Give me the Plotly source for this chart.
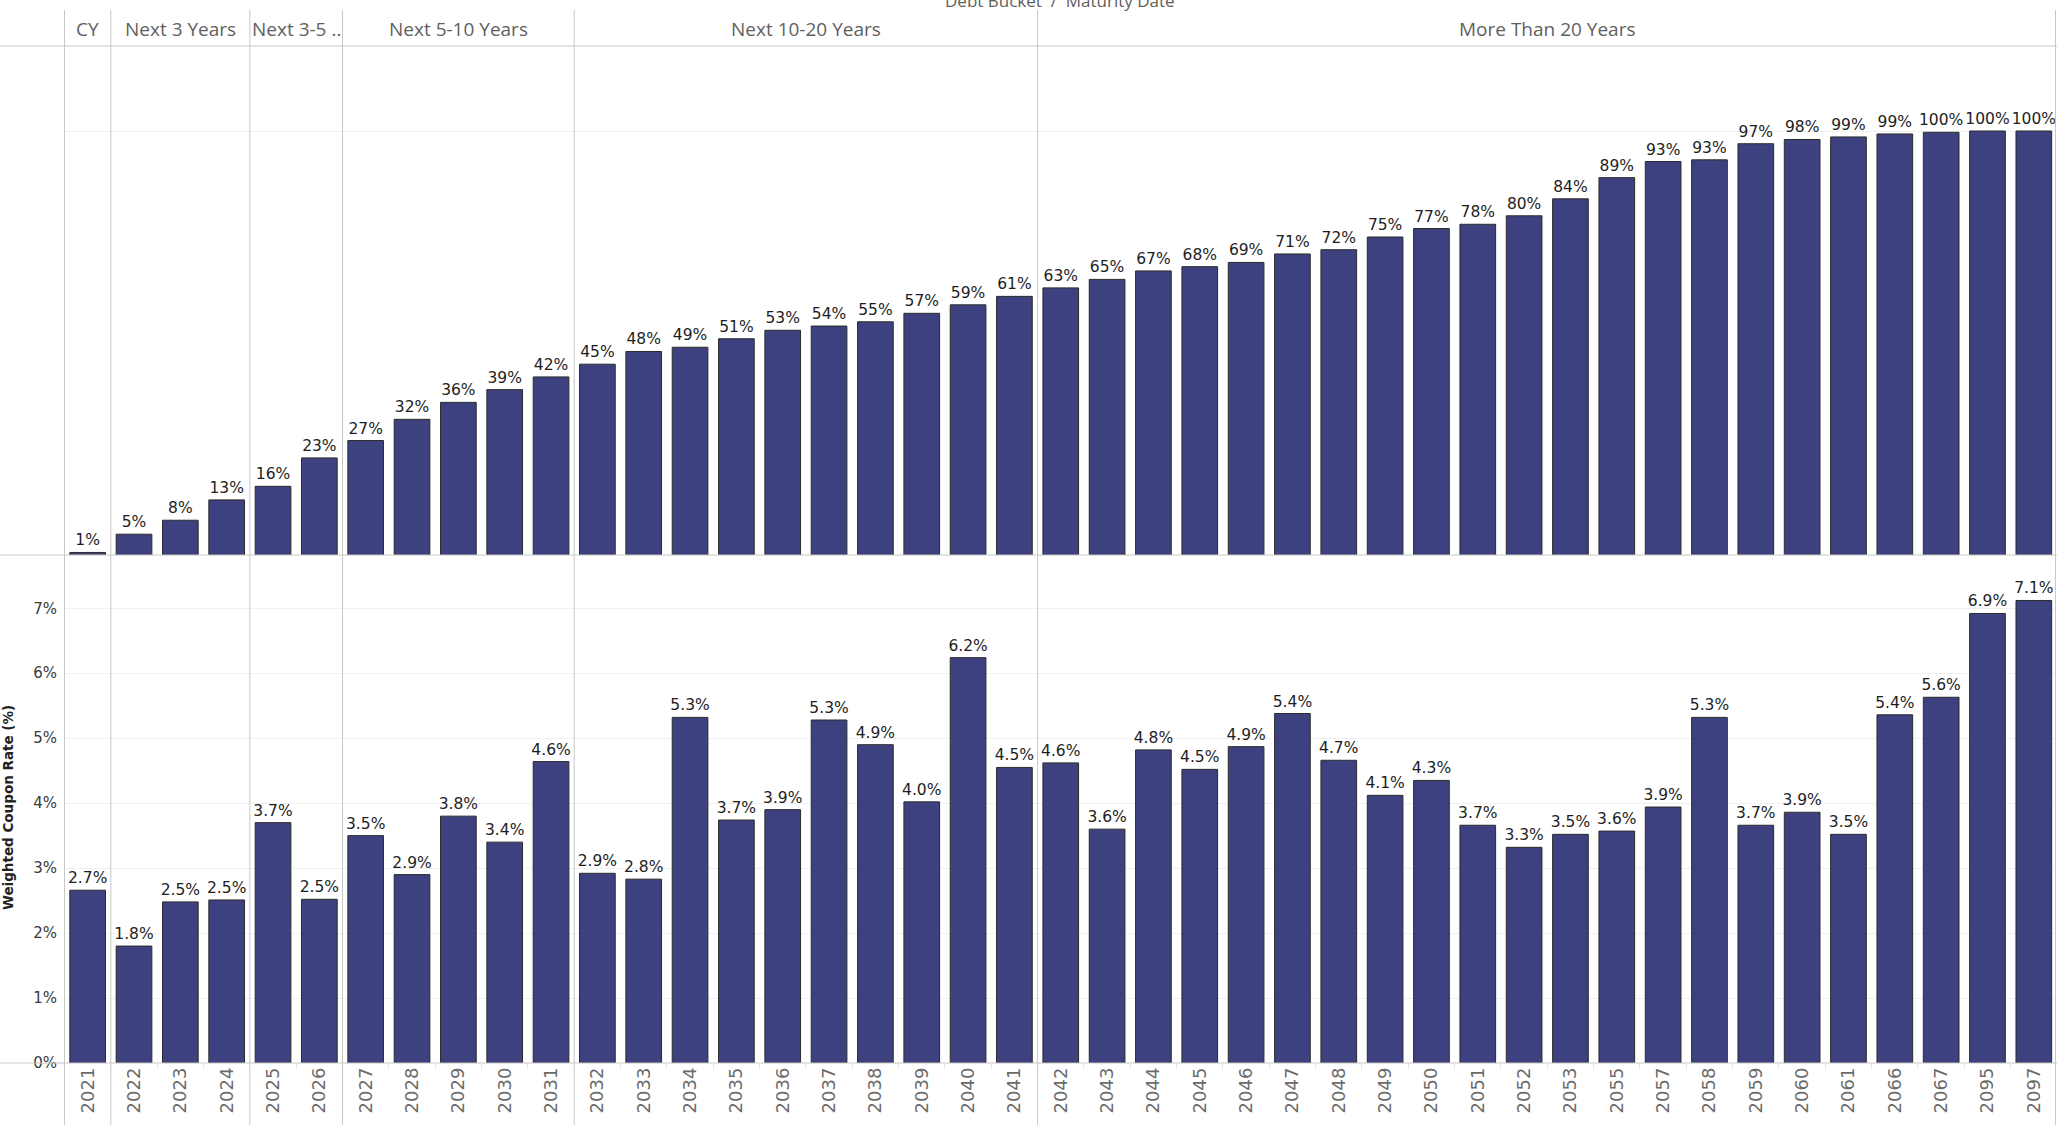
import plotly.graph_objects as go

# ---------------- data ----------------
years = ["2021", "2022", "2023", "2024", "2025", "2026", "2027", "2028", "2029", "2030",
         "2031", "2032", "2033", "2034", "2035", "2036", "2037", "2038", "2039", "2040",
         "2041", "2042", "2043", "2044", "2045", "2046", "2047", "2048", "2049", "2050",
         "2051", "2052", "2053", "2055", "2057", "2058", "2059", "2060", "2061", "2066",
         "2067", "2095", "2097"]

buckets = (["CY"] + ["Next 3 Years"] * 3 + ["Next 3-5 .."] * 2 + ["Next 5-10 Years"] * 5
           + ["Next 10-20 Years"] * 10 + ["More Than 20 Years"] * 22)

cumulative_pct = [0.6, 4.9, 8.2, 13.0, 16.2, 22.9, 27, 32, 36, 39,
                  42, 45, 48, 49, 51, 53, 54, 55, 57, 59,
                  61, 63, 65, 67, 68, 69, 71, 72, 75, 77,
                  78, 80, 84, 89, 92.8, 93.2, 97, 98, 98.6, 99.3,
                  99.7, 100, 100]

coupon_pct = [2.66, 1.8, 2.48, 2.51, 3.7, 2.52, 3.5, 2.9, 3.8, 3.4,
              4.64, 2.92, 2.83, 5.32, 3.74, 3.9, 5.28, 4.9, 4.02, 6.24,
              4.55, 4.62, 3.6, 4.82, 4.52, 4.87, 5.38, 4.66, 4.12, 4.35,
              3.66, 3.32, 3.52, 3.57, 3.94, 5.32, 3.66, 3.86, 3.52, 5.36,
              5.63, 6.92, 7.12]

coupon_ticks = [0, 1, 2, 3, 4, 5, 6, 7]
cumulative_ticks = [100]

# ---------------- styling ----------------
W, H = 2057, 1125
ML, MR, MT, MB = 64, 0, 47, 62
PW, PH = W - ML - MR, H - MT - MB
BAR = "#3E4180"
EDGE = "#2b2b2b"
DIV = "#c8c8c8"
GRID = "#f0f0f0"
LBL = "DejaVu Sans"


def px_y(y):
    """pixel y (from top) -> paper y"""
    return (H - MB - y) / PH


def px_x(x):
    return (x - ML) / PW


fig = go.Figure()

fig.add_trace(go.Bar(
    x=years, y=cumulative_pct, xaxis="x", yaxis="y",
    marker=dict(color=BAR, line=dict(color=EDGE, width=1)),
    texttemplate="%{y:.0f}%", textposition="outside", cliponaxis=False,
    constraintext="none",
    textfont=dict(family=LBL, size=15.5, color="#1e1e1e"),
    hoverinfo="x+y", showlegend=False,
))

fig.add_trace(go.Bar(
    x=years, y=coupon_pct, xaxis="x", yaxis="y2",
    marker=dict(color=BAR, line=dict(color=EDGE, width=1)),
    texttemplate="%{y:.1f}%", textposition="outside", cliponaxis=False,
    constraintext="none",
    textfont=dict(family=LBL, size=15.5, color="#1e1e1e"),
    hoverinfo="x+y", showlegend=False,
))

# bucket boundaries and header labels derived from the bucket list
shapes = []
annotations = []
n = len(years)
boundaries = [-0.5] + [i - 0.5 for i in range(1, n) if buckets[i] != buckets[i - 1]]
for b in boundaries:
    shapes.append(dict(type="line", xref="x", yref="paper", x0=b, x1=b,
                       y0=px_y(H + 5), y1=px_y(10), line=dict(color=DIV, width=1)))
shapes.append(dict(type="line", xref="paper", yref="paper", x0=px_x(W - 1.5), x1=px_x(W - 1.5),
                   y0=px_y(H + 5), y1=px_y(10), line=dict(color=DIV, width=1)))
for yy in (46, MT + PH / 2, H - MB):
    shapes.append(dict(type="line", xref="paper", yref="paper", x0=px_x(0), x1=px_x(W),
                       y0=px_y(yy), y1=px_y(yy), line=dict(color=DIV, width=1)))

start = 0
for i in range(1, n + 1):
    if i == n or buckets[i] != buckets[start]:
        annotations.append(dict(xref="x", yref="paper", x=(start + i - 1) / 2, y=px_y(29),
                                text=buckets[start], showarrow=False, xanchor="center",
                                yanchor="middle",
                                font=dict(family="Open Sans", size=19, color="#5f5f5f")))
        start = i

annotations.append(dict(xref="paper", yref="paper", x=px_x(1060), y=px_y(0),
                        text="Debt Bucket  /  Maturity Date", showarrow=False,
                        xanchor="center", yanchor="middle",
                        font=dict(family="Open Sans", size=17, color="#5f5f5f")))
annotations.append(dict(xref="paper", yref="paper", x=px_x(8), y=px_y(808),
                        text="<b>Weighted Coupon Rate (%)</b>", showarrow=False,
                        textangle=-90, xanchor="center", yanchor="middle",
                        font=dict(family=LBL, size=13.5, color="#222222")))

fig.update_layout(
    width=W, height=H,
    margin=dict(l=ML, r=MR, t=MT, b=MB, autoexpand=False),
    paper_bgcolor="white", plot_bgcolor="white",
    bargap=0.23,
    xaxis=dict(type="category", anchor="y2", showgrid=False, showline=False, zeroline=False,
               ticks="outside", tickson="boundaries", ticklen=5, tickcolor="#e6e6e6",
               tickangle=-90, tickfont=dict(family=LBL, size=18, color="#6b6b6b"),
               categoryorder="array", categoryarray=years),
    yaxis=dict(domain=[0.5, 1.0], range=[0, 100 * 508 / 424], tickvals=cumulative_ticks,
               showticklabels=False, showgrid=True, gridcolor=GRID, zeroline=False,
               showline=False, ticks=""),
    yaxis2=dict(domain=[0.0, 0.5], range=[0, 7.82], tickvals=coupon_ticks,
                ticktext=[f"{t}%" for t in coupon_ticks], showgrid=True, gridcolor=GRID,
                zeroline=False, showline=False, ticks="", ticklabelstandoff=6,
                tickfont=dict(family=LBL, size=15, color="#3a3a3a")),
    shapes=shapes,
    annotations=annotations,
)

fig.write_html("out.html", config={"displayModeBar": False},
               post_script="document.body.style.margin='0';document.body.style.overflow='hidden';")
